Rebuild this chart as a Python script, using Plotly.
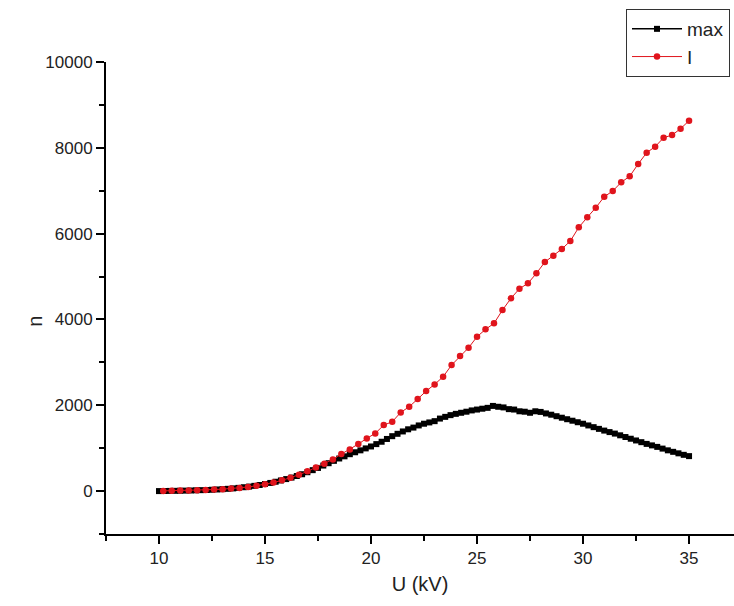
import plotly.graph_objects as go

# ---- data ----
u_max = [10.00, 10.25, 10.50, 10.75, 11.00, 11.25, 11.50, 11.75, 12.00, 12.25,
         12.50, 12.75, 13.00, 13.25, 13.50, 13.75, 14.00, 14.25, 14.50, 14.75,
         15.00, 15.25, 15.50, 15.75, 16.00, 16.25, 16.50, 16.75, 17.00, 17.25,
         17.50, 17.75, 18.00, 18.25, 18.50, 18.75, 19.00, 19.25, 19.50, 19.75,
         20.00, 20.25, 20.50, 20.75, 21.00, 21.25, 21.50, 21.75, 22.00, 22.25,
         22.50, 22.75, 23.00, 23.25, 23.50, 23.75, 24.00, 24.25, 24.50, 24.75,
         25.00, 25.25, 25.50, 25.75, 26.00, 26.25, 26.50, 26.75, 27.00, 27.25,
         27.50, 27.75, 28.00, 28.25, 28.50, 28.75, 29.00, 29.25, 29.50, 29.75,
         30.00, 30.25, 30.50, 30.75, 31.00, 31.25, 31.50, 31.75, 32.00, 32.25,
         32.50, 32.75, 33.00, 33.25, 33.50, 33.75, 34.00, 34.25, 34.50, 34.75,
         35.00]
n_max = [0, 2, 4, 6, 8, 11, 14, 18, 22, 26,
         31, 38, 45, 53, 63, 75, 90, 105, 122, 142,
         165, 190, 218, 248, 280, 315, 352, 393, 440, 488,
         540, 595, 650, 705, 760, 810, 860, 905, 950, 995,
         1040, 1095, 1150, 1215, 1280, 1335, 1390, 1440, 1480, 1530,
         1570, 1600, 1630, 1690, 1730, 1770, 1800, 1825, 1850, 1880,
         1900, 1920, 1940, 1985, 1965, 1950, 1910, 1900, 1860, 1850,
         1825, 1860, 1845, 1810, 1780, 1745, 1710, 1675, 1640, 1605,
         1570, 1530, 1490, 1450, 1410, 1375, 1340, 1300, 1260, 1220,
         1180, 1140, 1100, 1065, 1030, 990, 950, 915, 880, 845,
         815]

u_I = [10.2, 10.6, 11.0, 11.4, 11.8, 12.2, 12.6, 13.0, 13.4, 13.8,
       14.2, 14.6, 15.0, 15.4, 15.8, 16.2, 16.6, 17.0, 17.4, 17.8,
       18.2, 18.6, 19.0, 19.4, 19.8, 20.2, 20.6, 21.0, 21.4, 21.8,
       22.2, 22.6, 23.0, 23.4, 23.8, 24.2, 24.6, 25.0, 25.4, 25.8,
       26.2, 26.6, 27.0, 27.4, 27.8, 28.2, 28.6, 29.0, 29.4, 29.8,
       30.2, 30.6, 31.0, 31.4, 31.8, 32.2, 32.6, 33.0, 33.4, 33.8,
       34.2, 34.6, 35.0]
n_I = [5, 8, 12, 16, 22, 28, 36, 45, 58, 72,
       95, 125, 160, 200, 250, 310, 380, 460, 550, 640,
       739, 862, 972, 1096, 1228, 1345, 1538, 1615, 1834, 1965,
       2145, 2331, 2487, 2665, 2937, 3147, 3340, 3597, 3769, 3909,
       4219, 4492, 4716, 4841, 5074, 5338, 5485, 5641, 5828, 6147,
       6380, 6604, 6860, 6993, 7196, 7336, 7622, 7886, 8026, 8235,
       8298, 8445, 8632]

x_ticks = [10, 15, 20, 25, 30, 35]
y_ticks = [0, 2000, 4000, 6000, 8000, 10000]

FONT = "Liberation Sans, Arial, sans-serif"

fig = go.Figure()
fig.add_trace(go.Scatter(
    x=u_max, y=n_max, name="max", mode="lines+markers",
    line=dict(color="black", width=1.5),
    marker=dict(symbol="square", size=6, color="black"),
))
fig.add_trace(go.Scatter(
    x=u_I, y=n_I, name="I", mode="lines+markers",
    line=dict(color="#e0141c", width=1),
    marker=dict(symbol="circle", size=6.5, color="#e0141c"),
))

axis_common = dict(
    showline=True, linecolor="black", linewidth=2, mirror=False,
    showgrid=False, zeroline=False,
    ticks="outside", ticklen=8, tickwidth=2, tickcolor="black",
    tickfont=dict(family=FONT, size=17, color="#222"),
)

fig.update_xaxes(
    range=[7.5, 37.12], tickvals=x_ticks, ticktext=[str(v) for v in x_ticks],
    minor=dict(dtick=2.5, tick0=0, ticks="outside", ticklen=5, tickwidth=2, tickcolor="black"),
    title=dict(text="U (kV)", font=dict(family=FONT, size=20, color="#222"), standoff=10),
    **axis_common,
)
fig.update_yaxes(
    range=[-1000, 10000], tickvals=y_ticks, ticktext=[str(v) for v in y_ticks],
    minor=dict(dtick=1000, tick0=0, ticks="outside", ticklen=5, tickwidth=2, tickcolor="black"),
    **axis_common,
)

fig.add_annotation(
    text="n", xref="paper", yref="paper", x=-0.113, y=0.45,
    xanchor="center", yanchor="middle", textangle=-90, showarrow=False,
    font=dict(family=FONT, size=20, color="#222"),
)

fig.update_layout(
    width=734, height=606,
    margin=dict(l=106, r=0, t=62, b=72, autoexpand=False),
    paper_bgcolor="white", plot_bgcolor="white",
    font=dict(family=FONT, color="#222"),
    showlegend=True,
    legend=dict(
        x=626/734, y=1 - 9/606, xanchor="left", yanchor="top",
        xref="container", yref="container",
        bordercolor="#333", borderwidth=1, bgcolor="white",
        font=dict(family=FONT, size=19, color="#222"),
        itemwidth=50, tracegroupgap=0,
    ),
)

fig.write_html("out.html")
